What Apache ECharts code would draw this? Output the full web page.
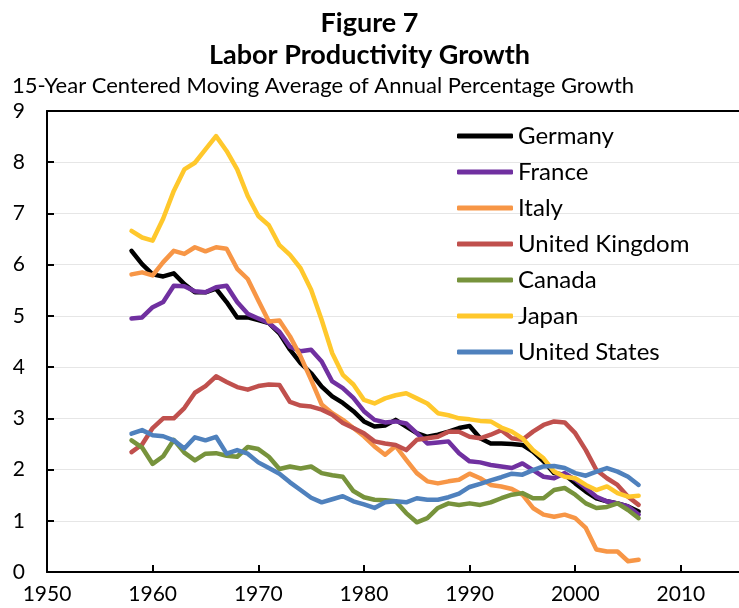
<!DOCTYPE html>
<html>
<head>
<meta charset="utf-8">
<script src="https://cdn.jsdelivr.net/npm/echarts@6/dist/echarts.min.js"></script>
<style>
    html, body { margin: 0; padding: 0; background: #fff; }
    #main { width: 739px; height: 608px; }
</style>
</head>
<body>
<div id="main"></div>
<script>
    var years = [1958, 1959, 1960, 1961, 1962, 1963, 1964, 1965, 1966, 1967, 1968, 1969,
        1970, 1971, 1972, 1973, 1974, 1975, 1976, 1977, 1978, 1979, 1980, 1981,
        1982, 1983, 1984, 1985, 1986, 1987, 1988, 1989, 1990, 1991, 1992, 1993,
        1994, 1995, 1996, 1997, 1998, 1999, 2000, 2001, 2002, 2003, 2004, 2005, 2006];

    var germany = [6.27, 6.01, 5.81, 5.77, 5.83, 5.62, 5.46, 5.46, 5.53, 5.27, 4.97, 4.97,
        4.92, 4.86, 4.66, 4.34, 4.08, 3.88, 3.62, 3.43, 3.30, 3.14, 2.94, 2.84,
        2.86, 2.97, 2.84, 2.71, 2.64, 2.68, 2.74, 2.81, 2.85, 2.61, 2.51, 2.51,
        2.50, 2.48, 2.35, 2.16, 1.93, 1.90, 1.73, 1.57, 1.44, 1.38, 1.34, 1.28, 1.18];

    var france = [4.95, 4.97, 5.17, 5.27, 5.59, 5.58, 5.48, 5.46, 5.56, 5.59, 5.27, 5.04,
        4.95, 4.86, 4.69, 4.40, 4.31, 4.34, 4.11, 3.72, 3.59, 3.40, 3.14, 2.97,
        2.92, 2.94, 2.90, 2.71, 2.51, 2.53, 2.55, 2.32, 2.16, 2.14, 2.09, 2.06,
        2.03, 2.12, 1.99, 1.86, 1.83, 1.93, 1.80, 1.64, 1.47, 1.38, 1.34, 1.28, 1.12];

    var italy = [5.81, 5.85, 5.79, 6.05, 6.27, 6.21, 6.34, 6.26, 6.34, 6.31, 5.92, 5.72,
        5.30, 4.89, 4.91, 4.60, 4.21, 3.75, 3.27, 3.10, 2.97, 2.81, 2.65, 2.45,
        2.29, 2.46, 2.19, 1.93, 1.77, 1.73, 1.77, 1.80, 1.92, 1.83, 1.70, 1.67,
        1.62, 1.51, 1.25, 1.12, 1.08, 1.12, 1.05, 0.86, 0.44, 0.40, 0.40, 0.21, 0.24];

    var uk = [2.34, 2.49, 2.81, 3.00, 3.00, 3.20, 3.50, 3.63, 3.82, 3.71, 3.61, 3.56,
        3.63, 3.66, 3.65, 3.32, 3.25, 3.23, 3.17, 3.07, 2.91, 2.81, 2.71, 2.55,
        2.51, 2.48, 2.38, 2.58, 2.61, 2.64, 2.74, 2.74, 2.64, 2.61, 2.68, 2.77,
        2.61, 2.58, 2.74, 2.87, 2.94, 2.92, 2.71, 2.38, 1.99, 1.83, 1.70, 1.47, 1.31];

    var canada = [2.57, 2.43, 2.11, 2.26, 2.58, 2.33, 2.18, 2.31, 2.32, 2.27, 2.25, 2.44,
        2.40, 2.25, 2.01, 2.06, 2.02, 2.06, 1.93, 1.89, 1.86, 1.58, 1.46, 1.41,
        1.40, 1.38, 1.15, 0.97, 1.05, 1.25, 1.34, 1.31, 1.34, 1.31, 1.36, 1.44,
        1.51, 1.54, 1.44, 1.44, 1.60, 1.64, 1.51, 1.34, 1.25, 1.27, 1.34, 1.21, 1.05];

    var japan = [6.66, 6.53, 6.47, 6.90, 7.44, 7.86, 7.99, 8.25, 8.51, 8.22, 7.86, 7.34,
        6.95, 6.77, 6.38, 6.19, 5.93, 5.51, 4.92, 4.27, 3.85, 3.66, 3.36, 3.29,
        3.39, 3.45, 3.49, 3.39, 3.29, 3.10, 3.06, 3.00, 2.98, 2.95, 2.94, 2.82,
        2.74, 2.61, 2.38, 2.22, 1.96, 1.86, 1.83, 1.70, 1.60, 1.67, 1.54, 1.47, 1.49];

    var us = [2.70, 2.77, 2.67, 2.65, 2.57, 2.41, 2.63, 2.57, 2.64, 2.31, 2.38, 2.31,
        2.14, 2.03, 1.92, 1.75, 1.60, 1.45, 1.36, 1.42, 1.48, 1.38, 1.32, 1.25,
        1.36, 1.38, 1.36, 1.44, 1.41, 1.41, 1.46, 1.53, 1.66, 1.72, 1.79, 1.85,
        1.92, 1.90, 1.99, 2.06, 2.07, 2.03, 1.93, 1.88, 1.96, 2.03, 1.96, 1.86, 1.70];

    var yTicks = [0, 1, 2, 3, 4, 5, 6, 7, 8, 9];

    var seriesList = [
        { name: 'Germany', values: germany, color: '#000000' },
        { name: 'France', values: france, color: '#7030A0' },
        { name: 'Italy', values: italy, color: '#F79646' },
        { name: 'United Kingdom', values: uk, color: '#C0504D' },
        { name: 'Canada', values: canada, color: '#77933C' },
        { name: 'Japan', values: japan, color: '#FFC82C' },
        { name: 'United States', values: us, color: '#4F81BD' }
    ];

    var FONT = 'Lato, "Open Sans", sans-serif';

    function pairs(vals) {
        var out = [];
        for (var i = 0; i < years.length; i++) {
            out.push([years[i], vals[i]]);
        }
        return out;
    }

    var chart = echarts.init(document.getElementById('main'));

    var option = {
        animation: false,
        backgroundColor: '#ffffff',
        title: [{
            text: 'Figure 7\nLabor Productivity Growth',
            left: 'center',
            top: 2,
            textStyle: {
                fontFamily: FONT,
                fontWeight: 'bold',
                fontSize: 27,
                lineHeight: 32,
                color: '#000'
            }
        }, {
            text: '15-Year Centered Moving Average of Annual Percentage Growth',
            left: 7,
            top: 70,
            textStyle: {
                fontFamily: FONT,
                fontWeight: 'normal',
                fontSize: 22,
                color: '#000'
            }
        }],
        legend: {
            orient: 'vertical',
            left: 452,
            top: 119,
            icon: 'roundRect',
            itemWidth: 56,
            itemHeight: 5,
            itemGap: 12,
            selectedMode: false,
            textStyle: {
                fontFamily: FONT,
                fontSize: 24,
                lineHeight: 24,
                color: '#000'
            },
            data: seriesList.map(function (s) { return s.name; })
        },
        grid: {
            left: 47,
            right: 0,
            top: 111,
            bottom: 36
        },
        xAxis: [{
            type: 'value',
            min: 1950,
            max: 2015.5,
            interval: 10,
            axisLine: { lineStyle: { color: '#000', width: 2 } },
            axisTick: { inside: true, length: 7, lineStyle: { color: '#000', width: 2 } },
            axisLabel: {
                showMaxLabel: false,
                margin: 12,
                fontFamily: FONT,
                fontSize: 21,
                color: '#000',
                formatter: function (v) { return String(v); }
            },
            splitLine: { show: false }
        }, {
            type: 'value',
            position: 'top',
            min: 1950,
            max: 2015.5,
            axisLine: { show: true, onZero: false, lineStyle: { color: '#000', width: 2 } },
            axisTick: { show: false },
            axisLabel: { show: false },
            splitLine: { show: false }
        }],
        yAxis: {
            type: 'value',
            min: yTicks[0],
            max: yTicks[yTicks.length - 1],
            interval: 1,
            axisLine: { show: true, lineStyle: { color: '#000', width: 2 } },
            axisTick: { show: true, inside: true, length: 7, lineStyle: { color: '#000', width: 2 } },
            axisLabel: {
                margin: 22,
                fontFamily: FONT,
                fontSize: 21,
                color: '#000'
            },
            splitLine: { lineStyle: { color: '#E6E6E6', width: 1 } }
        },
        series: seriesList.map(function (s) {
            return {
                name: s.name,
                type: 'line',
                xAxisIndex: 0,
                data: pairs(s.values),
                showSymbol: false,
                symbol: 'none',
                color: s.color,
                lineStyle: { color: s.color, width: 4.5, cap: 'round', join: 'round' },
                emphasis: { disabled: true }
            };
        })
    };

    chart.setOption(option);
</script>
</body>
</html>
